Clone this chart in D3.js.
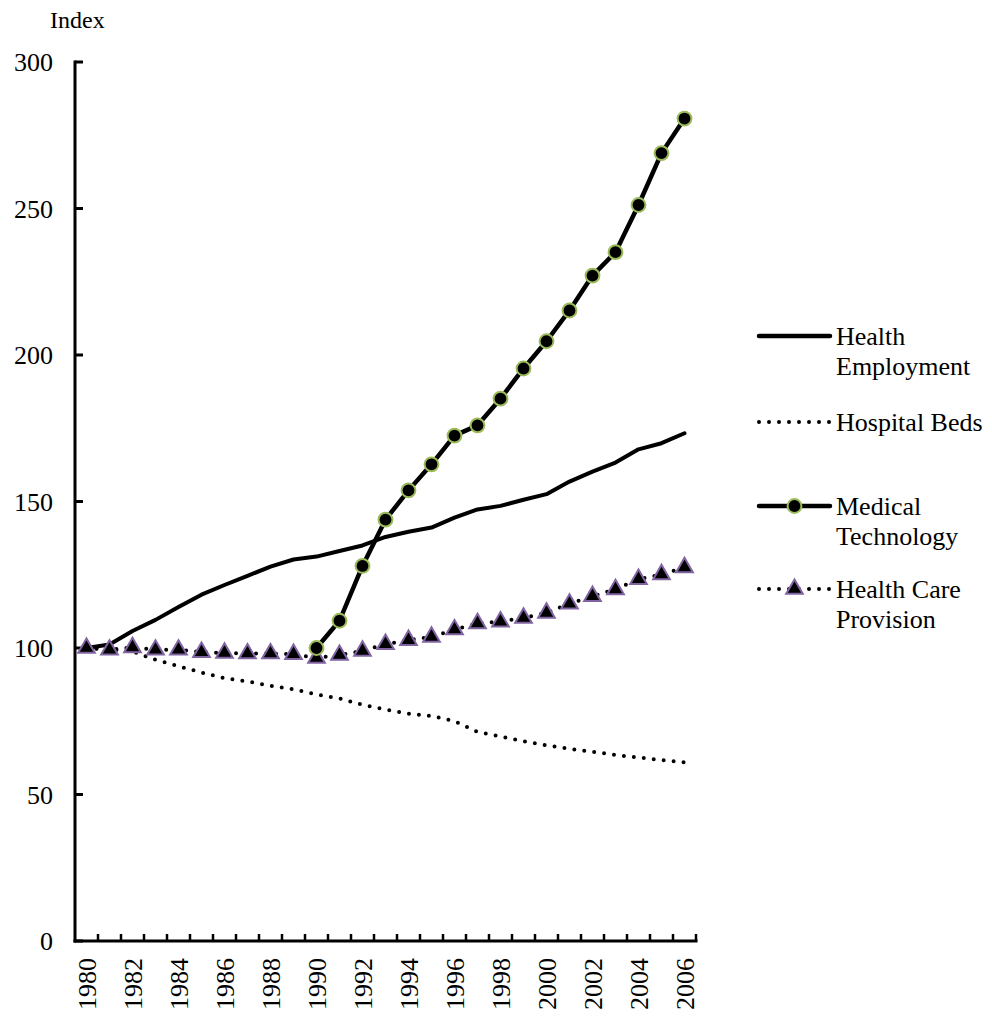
<!DOCTYPE html>
<html><head><meta charset="utf-8">
<script src="https://cdn.jsdelivr.net/npm/d3@7"></script>
<style>
html,body{margin:0;padding:0;background:#fff;}
svg{display:block;}
</style></head>
<body>
<svg id="chart" width="992" height="1021"></svg>
<script>
const years = d3.range(1980, 2007);
const yTicks = [0, 50, 100, 150, 200, 250, 300];
const healthEmployment = [100, 101.2, 105.8, 109.6, 114.0, 118.2, 121.5, 124.6, 127.8, 130.2, 131.2, 133.1, 135.0, 137.9, 139.7, 141.1, 144.5, 147.3, 148.5, 150.6, 152.5, 156.8, 160.2, 163.3, 167.8, 169.9, 173.3];
const hospitalBeds = [100, 99.6, 98.8, 96.0, 93.8, 91.6, 89.7, 88.6, 87.1, 85.9, 84.1, 82.8, 80.6, 79.0, 77.6, 76.8, 75.0, 71.4, 69.8, 68.2, 66.8, 65.6, 64.6, 63.5, 62.6, 61.8, 61.0];
const medicalTechnology = [null, null, null, null, null, null, null, null, null, null, 100, 109.3, 128.0, 143.8, 153.8, 162.7, 172.5, 176.0, 185.1, 195.4, 204.7, 215.2, 227.1, 235.1, 251.2, 268.9, 280.7];
const healthCareProvision = [100, 99.4, 100.2, 99.4, 99.4, 98.6, 98.3, 98.1, 98.1, 97.9, 96.6, 97.6, 99.0, 101.3, 102.7, 103.8, 106.3, 108.4, 109.0, 110.3, 112.0, 115.1, 117.7, 120.0, 123.5, 125.1, 127.5];
const seriesNames = ["Health Employment", "Hospital Beds", "Medical Technology", "Health Care Provision"];
const legendLabels = [["Health", "Employment"], ["Hospital Beds"], ["Medical", "Technology"], ["Health Care", "Provision"]];

const FONT = "'Times New Roman', 'Liberation Serif', Times, serif";
const svg = d3.select("#chart").attr("font-family", FONT);
const x = d3.scaleBand().domain(years).range([75, 696]).padding(0);
const cx = d => x(d) + x.bandwidth() / 2;
const y = d3.scaleLinear().domain([0, 300]).range([941, 62]);
const FS = 26;

const GREEN = "#9BBB59", PURPLE = "#8064A2";

function lineFor(vals) {
  return d3.line().defined(d => d.v != null).x(d => cx(d.year)).y(d => y(d.v))(years.map((yr, i) => ({year: yr, v: vals[i]})));
}

// Axis label
svg.append("text").attr("x", 50).attr("y", 28).attr("font-family", FONT).attr("font-size", 24).text("Index");

// Y axis
const gy = svg.append("g");
gy.append("line").attr("x1", 75).attr("x2", 75).attr("y1", y(300) - 1.5).attr("y2", y(0) + 1.5).attr("stroke", "#000").attr("stroke-width", 3);
yTicks.forEach(t => {
  gy.append("line").attr("x1", 75).attr("x2", 83).attr("y1", y(t)).attr("y2", y(t)).attr("stroke", "#000").attr("stroke-width", 3);
  gy.append("text").attr("x", 53).attr("y", y(t)).attr("dy", "0.35em").attr("text-anchor", "end").attr("font-family", FONT).attr("font-size", FS).text(t);
});

// X axis
const gx = svg.append("g");
gx.append("line").attr("x1", 73.5).attr("x2", 697.5).attr("y1", y(0)).attr("y2", y(0)).attr("stroke", "#000").attr("stroke-width", 3);
years.concat(["end"]).forEach((yr, i) => {
  const xx = yr === "end" ? x.range()[1] : x(yr);
  if (i === 0) return;
  gx.append("line").attr("x1", xx).attr("x2", xx).attr("y1", y(0)).attr("y2", y(0) - 7).attr("stroke", "#000").attr("stroke-width", 2.5);
});
years.filter(yr => yr % 2 === 0).forEach(yr => {
  gx.append("text").attr("transform", `translate(${cx(yr)},958) rotate(-90)`).attr("text-anchor", "end").attr("dy", "0.35em").attr("font-family", FONT).attr("font-size", FS).text(yr);
});

// Lines
const plot = svg.append("g");
plot.append("path").attr("d", lineFor(hospitalBeds)).attr("fill", "none").attr("stroke", "#000").attr("stroke-width", 4).attr("stroke-linecap", "round").attr("stroke-dasharray", "0 10");
plot.append("path").attr("d", lineFor(healthCareProvision)).attr("fill", "none").attr("stroke", "#000").attr("stroke-width", 4).attr("stroke-linecap", "round").attr("stroke-dasharray", "0 10");
plot.append("path").attr("d", lineFor(healthEmployment)).attr("fill", "none").attr("stroke", "#000").attr("stroke-width", 4).attr("stroke-linejoin", "round").attr("stroke-linecap", "round");
plot.append("path").attr("d", lineFor(medicalTechnology)).attr("fill", "none").attr("stroke", "#000").attr("stroke-width", 4.5).attr("stroke-linejoin", "round").attr("stroke-linecap", "round");

const tri = d3.symbol().type(d3.symbolTriangle).size(120);
const circ = d3.symbol().type(d3.symbolCircle).size(150);
healthCareProvision.forEach((v, i) => {
  if (v == null) return;
  plot.append("path").attr("d", tri).attr("transform", `translate(${cx(years[i])},${y(v)})`).attr("fill", "#000").attr("stroke", PURPLE).attr("stroke-width", 2);
});
medicalTechnology.forEach((v, i) => {
  if (v == null) return;
  plot.append("path").attr("d", circ).attr("transform", `translate(${cx(years[i])},${y(v)})`).attr("fill", "#000").attr("stroke", GREEN).attr("stroke-width", 2);
});

// Legend
const legY = [336, 422, 506, 589];
const leg = svg.append("g");
seriesNames.forEach((name, i) => {
  const ly = legY[i];
  const ln = leg.append("line").attr("x1", 759).attr("x2", 830).attr("y1", ly).attr("y2", ly).attr("stroke", "#000").attr("stroke-linecap", "round");
  if (i === 1 || i === 3) ln.attr("stroke-width", 4).attr("stroke-dasharray", "0 10");
  else ln.attr("stroke-width", 4.5);
  if (i === 2) leg.append("path").attr("d", circ).attr("transform", `translate(794.5,${ly})`).attr("fill", "#000").attr("stroke", GREEN).attr("stroke-width", 2);
  if (i === 3) leg.append("path").attr("d", tri).attr("transform", `translate(794.5,${ly})`).attr("fill", "#000").attr("stroke", PURPLE).attr("stroke-width", 2);
  const t = leg.append("text").attr("font-family", FONT).attr("font-size", FS).attr("x", 836).attr("y", ly + 9);
  legendLabels[i].forEach((s, j) => {
    t.append("tspan").attr("x", 836).attr("dy", j === 0 ? 0 : 30).text(s);
  });
});
</script>
</body></html>
